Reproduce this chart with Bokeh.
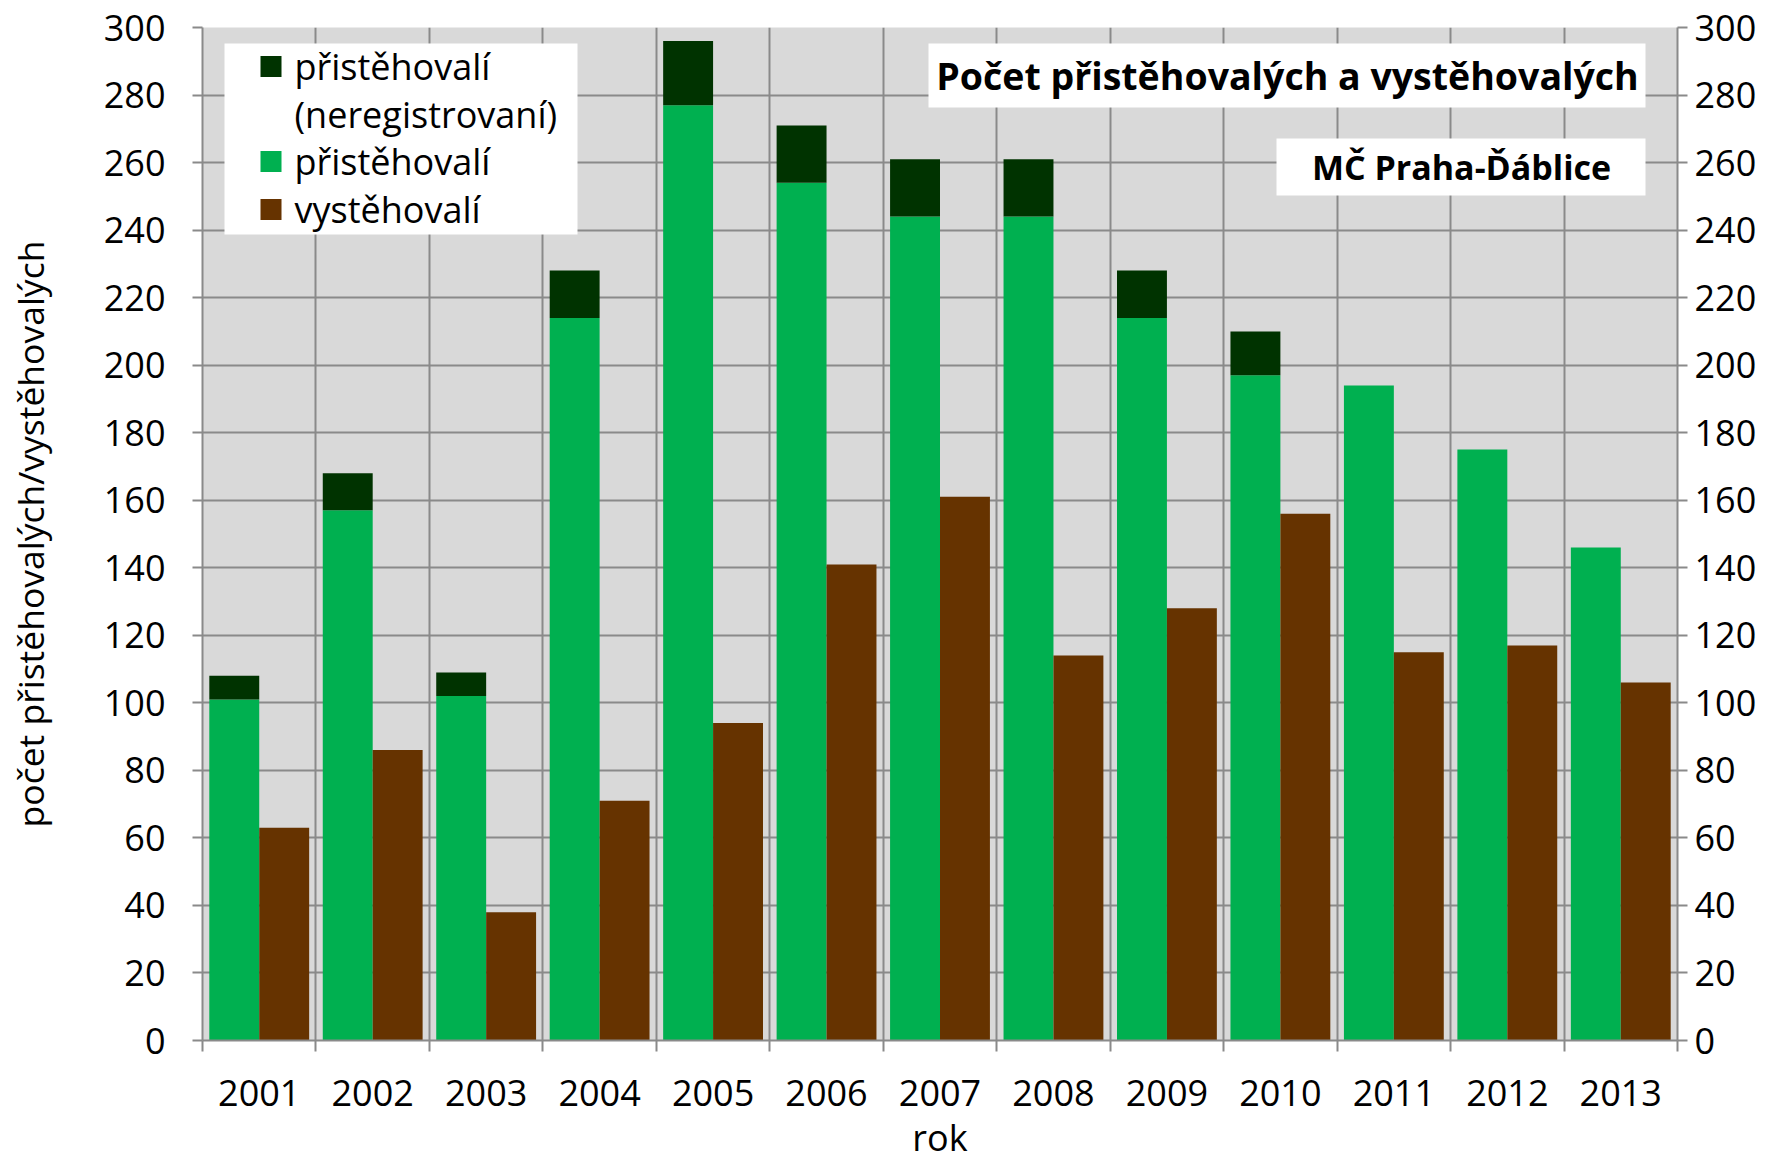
import numpy as np
from bokeh.plotting import figure
from bokeh.models import (ColumnDataSource, Range1d, FixedTicker, LinearAxis,
                          BoxAnnotation, Label)
from bokeh.transform import dodge
from bokeh.embed import file_html
from bokeh.resources import INLINE

# ---------------- data ----------------
years = ["2001", "2002", "2003", "2004", "2005", "2006", "2007",
         "2008", "2009", "2010", "2011", "2012", "2013"]
prist_reg = [101, 157, 102, 214, 277, 254, 244, 244, 214, 197, 194, 175, 146]
prist_nereg = [7, 11, 7, 14, 19, 17, 17, 17, 14, 13, 0, 0, 0]
vyst = [63, 86, 38, 71, 94, 141, 161, 114, 128, 156, 115, 117, 106]
y_ticks = list(range(0, 301, 20))

legend_names = ["přistěhovalí", "(neregistrovaní)", "přistěhovalí", "vystěhovalí"]
title_text = "Počet přistěhovalých a vystěhovalých"
subtitle_text = "MČ Praha-Ďáblice"
x_title = "rok"
y_title = "počet přistěhovalých/vystěhovalých"

# ---------------- style ----------------
FONT = "Open Sans"
FS = "36px"
GREEN = "#00B050"
DARK = "#003300"
BROWN = "#663300"
GRID = "#8a8a8a"
BG = "#D9D9D9"

n = len(years)
xc = [i + 0.5 for i in range(n)]
tot = list(np.array(prist_reg) + np.array(prist_nereg))
src = ColumnDataSource(dict(xc=xc, reg=prist_reg, tot=tot, vyst=vyst))

p = figure(width=1779, height=1165,
           x_range=Range1d(0, n), y_range=Range1d(0, 300),
           output_backend="svg", toolbar_location=None,
           min_border_left=202, min_border_right=102,
           min_border_top=27, min_border_bottom=125)
p.background_fill_color = BG
p.border_fill_color = "white"
p.outline_line_color = None

# bars
p.vbar(x=dodge("xc", -0.22), width=0.44, bottom=0, top="reg", source=src,
       fill_color=GREEN, line_color=None)
p.vbar(x=dodge("xc", -0.22), width=0.44, bottom="reg", top="tot", source=src,
       fill_color=DARK, line_color=None)
p.vbar(x=dodge("xc", 0.22), width=0.44, bottom=0, top="vyst", source=src,
       fill_color=BROWN, line_color=None)

# grids
p.xgrid.ticker = FixedTicker(ticks=list(range(n + 1)))
p.ygrid.ticker = FixedTicker(ticks=y_ticks)
for g in (p.xgrid, p.ygrid):
    g.grid_line_color = GRID
    g.grid_line_width = 2

# x axis
xa = p.xaxis[0]
xa.ticker = FixedTicker(ticks=xc, minor_ticks=list(range(n + 1)))
xa.major_label_overrides = {c: y for c, y in zip(xc, years)}
xa.major_tick_out = 0
xa.major_tick_in = 0
xa.minor_tick_out = 11
xa.minor_tick_in = 0
xa.minor_tick_line_color = GRID
xa.minor_tick_line_width = 2
xa.axis_line_color = GRID
xa.axis_line_width = 2
xa.major_label_text_font = FONT
xa.major_label_text_font_size = FS
xa.major_label_text_color = "black"
xa.major_label_standoff = 28
xa.axis_label = x_title
xa.axis_label_text_font = FONT
xa.axis_label_text_font_size = FS
xa.axis_label_text_font_style = "normal"
xa.axis_label_text_color = "black"
xa.axis_label_standoff = 4

# y axes
def style_y(ax, standoff):
    ax.ticker = FixedTicker(ticks=y_ticks)
    ax.major_tick_out = 10
    ax.major_tick_in = 0
    ax.major_tick_line_color = GRID
    ax.major_tick_line_width = 2
    ax.minor_tick_line_color = None
    ax.axis_line_color = GRID
    ax.axis_line_width = 2
    ax.major_label_text_font = FONT
    ax.major_label_text_font_size = FS
    ax.major_label_text_color = "black"
    ax.major_label_standoff = standoff

ya = p.yaxis[0]
style_y(ya, 27)
ya.axis_label = y_title
ya.axis_label_text_font = FONT
ya.axis_label_text_font_size = "35.5px"
ya.axis_label_text_font_style = "normal"
ya.axis_label_text_color = "black"
ya.axis_label_standoff = 47

ra = LinearAxis()
style_y(ra, 7)
p.add_layout(ra, "right")

# ---------------- annotations (legend, titles) ----------------
# helpers converting reference-image pixel positions to data positions
PX0, PX1, PY0, PY1 = 202.0, 1677.0, 1040.0, 27.0
def dx(px):
    return (px - PX0) / (PX1 - PX0) * n
def dy(py):
    return (PY0 - py) / (PY0 - PY1) * 300.0

def box(l, r, t, b, color):
    p.add_layout(BoxAnnotation(left=dx(l), right=dx(r), top=dy(t), bottom=dy(b),
                               fill_color=color, fill_alpha=1.0,
                               line_color=None, level="annotation"))

def label(x, y, text, size=FS, bold=False, align="left"):
    p.add_layout(Label(x=dx(x), y=dy(y), text=text, text_font=FONT,
                       text_font_size=size,
                       text_font_style="bold" if bold else "normal",
                       text_color="black", text_align=align,
                       text_baseline="middle", level="annotation"))

# legend
box(224, 577, 43, 234, "white")
rows = [66, 113.5, 161, 209]
swatches = [DARK, None, GREEN, BROWN]
for ry, col, name in zip(rows, swatches, legend_names):
    if col is not None:
        box(260, 281, ry - 10.5, ry + 10.5, col)
    label(294, ry, name)

# title boxes
box(928, 1645, 43, 107, "white")
label(1287, 75, title_text, size="37.5px", bold=True, align="center")
box(1276, 1645, 138, 195, "white")
label(1461, 166, subtitle_text, size="34px", bold=True, align="center")

open("out.html", "w").write(file_html(p, INLINE, title="Počet přistěhovalých a vystěhovalých"))
